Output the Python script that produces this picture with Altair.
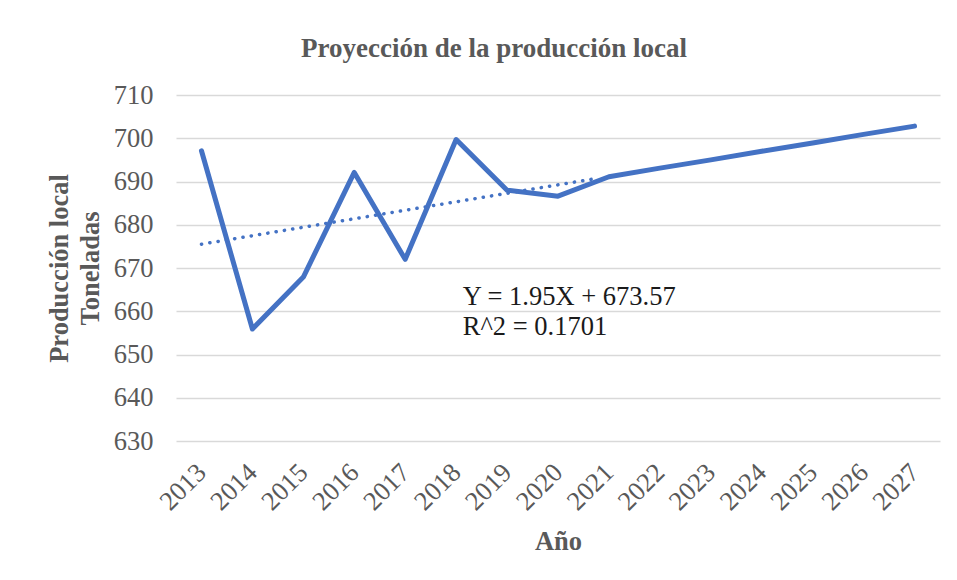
import altair as alt
import pandas as pd

# ---- data ----
years = [2013, 2014, 2015, 2016, 2017, 2018, 2019, 2020,
         2021, 2022, 2023, 2024, 2025, 2026, 2027]
production = [697.1, 655.9, 667.9, 692.1, 672.0, 699.7, 688.0, 686.6,
              691.1, 693.1, 695.0, 697.0, 698.9, 700.9, 702.8]
trend_years = [2013, 2020.7]
trend_values = [675.5, 690.6]
eq_text = ["Y = 1.95X + 673.57", "R^2 = 0.1701"]
eq_x = [2018.13, 2018.13]
eq_y = [661.4, 654.5]
y_ticks = [630, 640, 650, 660, 670, 680, 690, 700, 710]

FONT = "Liberation Serif"
GREY = "#595959"
BLUE = "#4472C4"

df = pd.DataFrame({"year": years, "value": production})
df_trend = pd.DataFrame({"year": trend_years, "value": trend_values})
df_eq = pd.DataFrame({"year": eq_x, "value": eq_y, "label": eq_text})

x_scale = alt.Scale(domain=[2012.5, 2027.5], nice=False, zero=False)
y_scale = alt.Scale(domain=[630, 710], nice=False, zero=False)

x_axis = alt.Axis(
    values=years, format="d", labelAngle=-45, labelAlign="right",
    labelBaseline="middle", labelFontSize=26.5, labelFont=FONT,
    labelColor=GREY, ticks=False, domain=False, grid=False, labelPadding=27,
    labelOverlap=False, labelFlush=False,
    title="Año", titleFont=FONT, titleFontSize=26.5, titleFontWeight="bold",
    titleColor=GREY, titlePadding=13,
)
y_axis = alt.Axis(
    values=y_ticks, labelFontSize=26.5, labelFont=FONT, labelColor=GREY,
    ticks=False, domain=False, grid=True, gridColor="#d9d9d9", gridWidth=1.5,
    labelPadding=23,
    title=["Producción local", "Toneladas"], titleFont=FONT, titleFontSize=26.5,
    titleFontWeight="bold", titleColor=GREY, titleLineHeight=31, titlePadding=9,
)

line = alt.Chart(df).mark_line(
    color=BLUE, strokeWidth=5, strokeCap="round", strokeJoin="round"
).encode(
    x=alt.X("year:Q", scale=x_scale, axis=x_axis),
    y=alt.Y("value:Q", scale=y_scale, axis=y_axis),
)

trend = alt.Chart(df_trend).mark_line(
    color=BLUE, strokeWidth=3.5, strokeDash=[0.2, 8.2], strokeCap="round"
).encode(
    x=alt.X("year:Q", scale=x_scale),
    y=alt.Y("value:Q", scale=y_scale),
)

eq = alt.Chart(df_eq).mark_text(
    align="left", baseline="alphabetic", font=FONT, fontSize=26.5, color="#1a1a1a"
).encode(
    x=alt.X("year:Q", scale=x_scale),
    y=alt.Y("value:Q", scale=y_scale),
    text="label:N",
)

chart = alt.layer(line, trend, eq).properties(
    width=764, height=346,
    autosize=alt.AutoSizeParams(type="none"),
    padding={"left": 168, "top": 87, "right": 8, "bottom": 128},
    title=alt.TitleParams(
        "Proyección de la producción local", font=FONT, fontSize=27,
        fontWeight="bold", color=GREY, dx=-64, offset=-2, baseline="alphabetic",
    ),
    background="white",
).configure_view(stroke=None)

chart.save("out.html", embed_options={"renderer": "svg", "actions": False})
